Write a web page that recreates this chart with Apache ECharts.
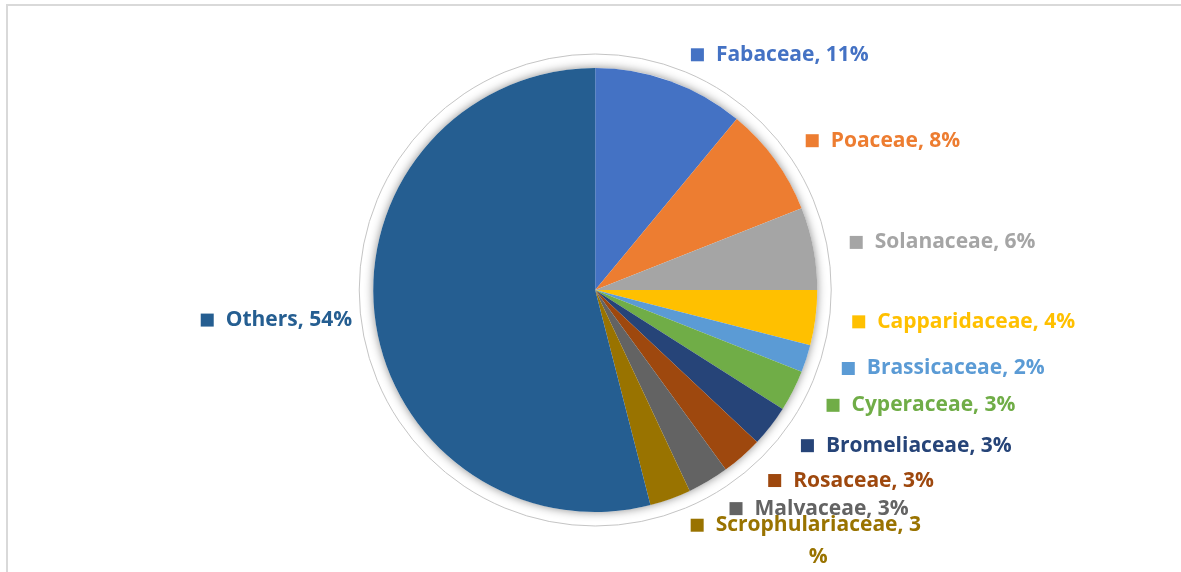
<!DOCTYPE html>
<html>
<head>
<meta charset="utf-8">
<script src="https://cdn.jsdelivr.net/npm/echarts@6/dist/echarts.min.js"></script>
<style>
html,body{margin:0;padding:0;background:#fff;}
#frame{position:absolute;left:6px;top:4px;width:1175px;height:568px;border-top:2px solid #d9d9d9;border-left:2px solid #d9d9d9;box-sizing:border-box;}
#chart{position:absolute;left:0;top:0;width:1181px;height:572px;}
</style>
</head>
<body>
<div id="frame"></div>
<div id="chart"></div>
<script>
const categories = ['Fabaceae','Poaceae','Solanaceae','Capparidaceae','Brassicaceae','Cyperaceae','Bromeliaceae','Rosaceae','Malvaceae','Scrophulariaceae','Others'];
const values = [11, 8, 6, 4, 2, 3, 3, 3, 3, 3, 54];
const colors = ['#4472C4','#ED7D31','#A5A5A5','#FFC000','#5B9BD5','#70AD47','#264478','#9E480E','#636363','#997300','#255E91'];
const wrapped = ['Scrophulariaceae']; // label wraps its "%" to a second line

const FONT = '"Open Sans", Lato, sans-serif';
const FS = 21;
const LH = 32;
const ctx = document.createElement('canvas').getContext('2d');
ctx.font = 'bold ' + FS + 'px ' + FONT;

// per-label distance from the pie edge (style only)
const lineStyleOverrides = {
  Fabaceae: { length: 28, length2: 6 },
  Others: { length: 18 },
  Scrophulariaceae: { length: 45 }
};

const data = categories.map((c, i) => {
  const rich = {
    m: { width: 13, height: 13, backgroundColor: colors[i] },
    g: { width: 12 },
    t: { color: colors[i], fontFamily: FONT, fontWeight: 'bold', fontSize: FS, lineHeight: LH },
    p: { color: colors[i], fontFamily: FONT, fontWeight: 'bold', fontSize: FS, lineHeight: LH, align: 'center' },
    s: { width: 25 }
  };
  const item = { name: c, value: values[i], itemStyle: { color: colors[i] }, label: { rich: rich } };
  if (lineStyleOverrides[c]) item.labelLine = lineStyleOverrides[c];
  if (wrapped.indexOf(c) >= 0) {
    const first = c + ', ' + values[i];
    const w = ctx.measureText(first).width;
    rich.p.width = w;
    item.label.formatter = '{m|}{g|}{t|' + first + '}\n{s|}{p|%}';
  }
  return item;
});

const chart = echarts.init(document.getElementById('chart'), null, { renderer: 'canvas' });
const center = ['50.4%', '50.7%'];
chart.setOption({
  backgroundColor: 'transparent',
  animation: false,
  series: [
    {
      type: 'pie', silent: true, center: center, radius: 236,
      label: { show: false }, labelLine: { show: false },
      data: [{ value: 1, itemStyle: { color: '#fff', borderColor: '#c4c4c4', borderWidth: 1 } }]
    },
    {
      type: 'pie', silent: true, center: center, radius: 222,
      label: { show: false }, labelLine: { show: false },
      data: [{ value: 1, itemStyle: { color: '#fff', shadowBlur: 10, shadowColor: 'rgba(0,0,0,0.45)' } }]
    },
    {
      type: 'pie', center: center, radius: 222, startAngle: 90, clockwise: true,
      avoidLabelOverlap: false,
      labelLayout: { hideOverlap: false },
      data: data,
      label: {
        show: true, position: 'outside',
        formatter: p => '{m|}{g|}{t|' + p.name + ', ' + p.value + '%}',
        fontFamily: FONT, fontWeight: 'bold', fontSize: FS
      },
      labelLine: { show: false, length: 32, length2: 0 },
      itemStyle: { borderWidth: 0 }
    }
  ]
});
</script>
</body>
</html>
